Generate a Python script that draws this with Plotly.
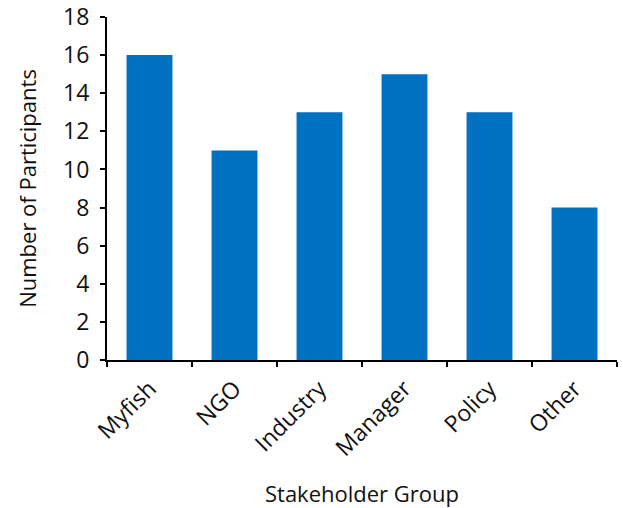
import plotly.graph_objects as go

groups = ["Myfish", "NGO", "Industry", "Manager", "Policy", "Other"]
participants = [16, 11, 13, 15, 13, 8]
y_ticks = [0, 2, 4, 6, 8, 10, 12, 14, 16, 18]

font_family = "Open Sans"

fig = go.Figure(
    go.Bar(
        x=groups,
        y=participants,
        marker=dict(color="#0070C0", line=dict(width=0)),
    )
)

fig.update_layout(
    width=623,
    height=508,
    margin=dict(l=107, r=6, t=17, b=148),
    paper_bgcolor="white",
    plot_bgcolor="white",
    bargap=0.46,
    showlegend=False,
    font=dict(family=font_family, size=22, color="#111111"),
)

fig.update_xaxes(
    automargin=False,
    showline=True,
    linecolor="black",
    linewidth=2,
    ticks="outside",
    tickson="boundaries",
    ticklen=5,
    tickwidth=2,
    tickcolor="black",
    tickangle=-45,
    ticklabelstandoff=4,
    tickfont=dict(size=23),
    title=dict(text="Stakeholder Group", font=dict(size=22), standoff=28),
    showgrid=False,
)

fig.update_yaxes(
    automargin=False,
    range=[0, 18],
    tickvals=y_ticks,
    showline=True,
    linecolor="black",
    linewidth=2,
    ticks="outside",
    ticklen=5,
    tickwidth=2,
    tickcolor="black",
    ticklabelstandoff=6,
    tickfont=dict(size=23),
    title=dict(text="Number of Participants", font=dict(size=22), standoff=20),
    showgrid=False,
    zeroline=False,
)

fig.write_html("out.html")
